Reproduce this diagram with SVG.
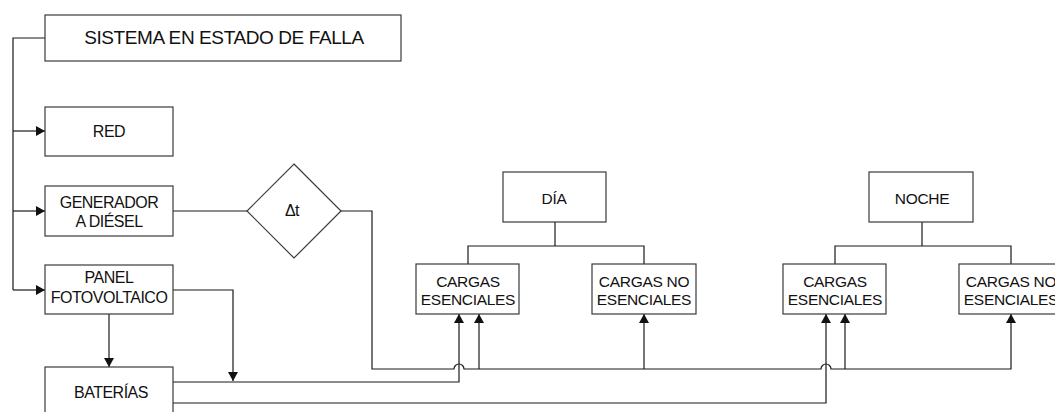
<svg xmlns="http://www.w3.org/2000/svg" width="1055" height="412" viewBox="0 0 1055 412">
  <style>
    .box { fill: #ffffff; stroke: #3a3a3a; stroke-width: 1.2; }
    .wire { fill: none; stroke: #1a1a1a; stroke-width: 1.2; }
    .lbl { font-family: "Liberation Sans", Arial, sans-serif; fill: #111; text-anchor: middle; }
    .big { font-size: 19px; letter-spacing: -0.4px; }
    .src { font-size: 16px; letter-spacing: -0.5px; }
    .load { font-size: 15.5px; letter-spacing: -0.3px; }
  </style>
  <defs>
    <marker id="arrow" markerUnits="userSpaceOnUse" markerWidth="10" markerHeight="10" refX="9" refY="5" orient="auto">
      <path d="M0,0 L9,5 L0,10 z" fill="#111"/>
    </marker>
  </defs>

  <!-- connectors -->
  <g id="connectors">
    <!-- supply bus from the fault state -->
    <path class="wire" d="M45,38 H13 V290"/>
    <path class="wire" d="M13,131 H45" marker-end="url(#arrow)"/>
    <path class="wire" d="M13,211 H45" marker-end="url(#arrow)"/>
    <path class="wire" d="M13,290 H45" marker-end="url(#arrow)"/>
    <!-- diesel generator through the delay -->
    <path class="wire" d="M173,211 H247"/>
    <path class="wire" d="M341,211 H372 V369 H454 A5,5 0 0 1 464,369 H821 A5,5 0 0 1 831,369 H1011 V314" marker-end="url(#arrow)"/>
    <path class="wire" d="M479,369 V314" marker-end="url(#arrow)"/>
    <path class="wire" d="M644,369 V314" marker-end="url(#arrow)"/>
    <path class="wire" d="M845,369 V314" marker-end="url(#arrow)"/>
    <!-- batteries to essential loads -->
    <path class="wire" d="M173,382 H459 V314" marker-end="url(#arrow)"/>
    <path class="wire" d="M173,403 H826 V314" marker-end="url(#arrow)"/>
    <!-- photovoltaic panel -->
    <path class="wire" d="M173,290 H233 V381" marker-end="url(#arrow)"/>
    <path class="wire" d="M109,314 V367" marker-end="url(#arrow)"/>
    <!-- day / night trees -->
    <path class="wire" d="M555,222 V246"/>
    <path class="wire" d="M468,264 V246 H644 V264"/>
    <path class="wire" d="M922,222 V246"/>
    <path class="wire" d="M835,264 V246 H1011 V264"/>
  </g>

  <g id="falla">
    <rect class="box" x="45" y="15" width="356" height="46"/>
    <text class="lbl big" x="224" y="44">SISTEMA EN ESTADO DE FALLA</text>
  </g>
  <g id="red">
    <rect class="box" x="45" y="107" width="128" height="49"/>
    <text class="lbl src" x="109" y="137">RED</text>
  </g>
  <g id="generador">
    <rect class="box" x="45" y="186" width="128" height="50"/>
    <text class="lbl src" x="109" y="207.5">GENERADOR</text>
    <text class="lbl src" x="109" y="227">A DIÉSEL</text>
  </g>
  <g id="panel">
    <rect class="box" x="45" y="265" width="128" height="49"/>
    <text class="lbl src" x="109" y="283">PANEL</text>
    <text class="lbl src" x="109" y="302.5">FOTOVOLTAICO</text>
  </g>
  <g id="baterias">
    <rect class="box" x="45" y="367" width="128" height="50"/>
    <text class="lbl src" x="111" y="397.5">BATERÍAS</text>
  </g>
  <g id="delta-t">
    <polygon class="box" points="294,164 341,211 294,258 247,211"/>
    <text class="lbl src" x="292" y="216">Δt</text>
  </g>
  <g id="dia">
    <rect class="box" x="503" y="172" width="103" height="50"/>
    <text class="lbl load" x="554" y="204">DÍA</text>
  </g>
  <g id="noche">
    <rect class="box" x="869" y="172" width="104" height="50"/>
    <text class="lbl load" x="922" y="204">NOCHE</text>
  </g>
  <g id="dia-esenciales">
    <rect class="box" x="416" y="264" width="103" height="50"/>
    <text class="lbl load" x="468" y="287">CARGAS</text>
    <text class="lbl load" x="468" y="305">ESENCIALES</text>
  </g>
  <g id="dia-no-esenciales">
    <rect class="box" x="592" y="264" width="104" height="50"/>
    <text class="lbl load" x="644" y="287">CARGAS NO</text>
    <text class="lbl load" x="644" y="305">ESENCIALES</text>
  </g>
  <g id="noche-esenciales">
    <rect class="box" x="783" y="264" width="103" height="50"/>
    <text class="lbl load" x="835" y="287">CARGAS</text>
    <text class="lbl load" x="835" y="305">ESENCIALES</text>
  </g>
  <g id="noche-no-esenciales">
    <rect class="box" x="959" y="264" width="104" height="50"/>
    <text class="lbl load" x="1011" y="287">CARGAS NO</text>
    <text class="lbl load" x="1011" y="305">ESENCIALES</text>
  </g>
</svg>
